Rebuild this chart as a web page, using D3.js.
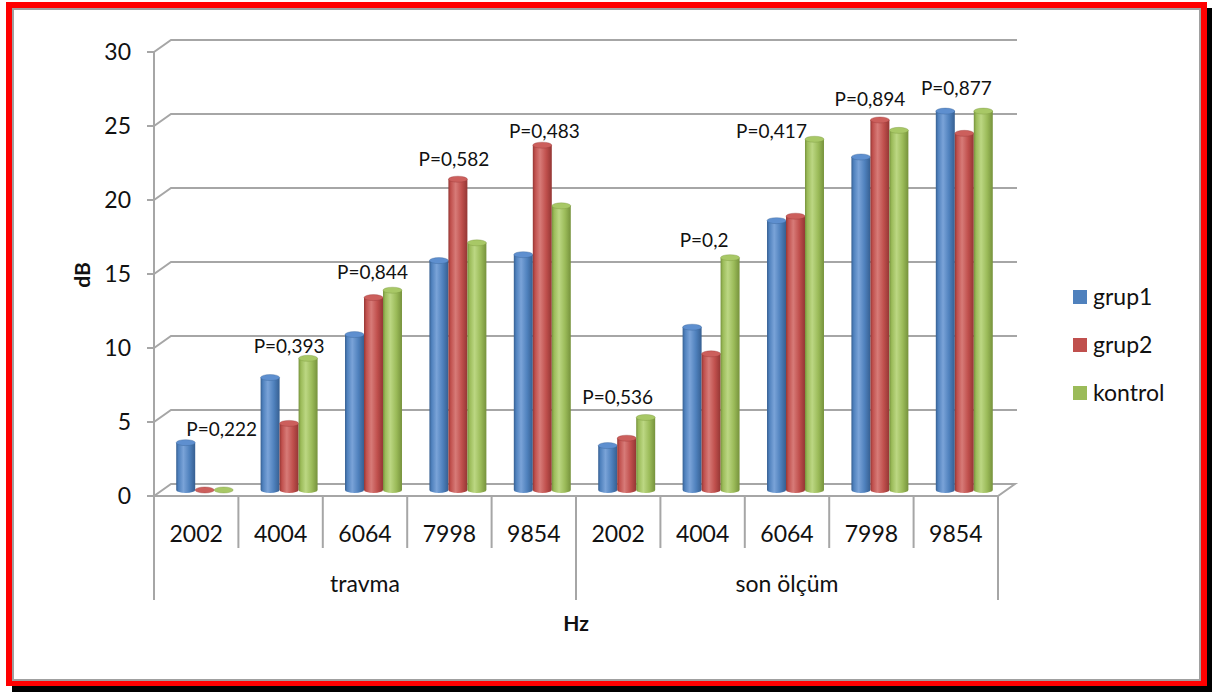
<!DOCTYPE html>
<html>
<head>
<meta charset="utf-8">
<script src="https://cdn.jsdelivr.net/npm/d3@7"></script>
<style>
  html, body { margin: 0; padding: 0; background: #fff; }
  svg { display: block; }
  text { font-family: Lato, "Open Sans", sans-serif; fill: #111; }
</style>
</head>
<body>
<svg id="chart" width="1226" height="693"></svg>
<script>
// ---- data ----
const groups = ["travma", "son ölçüm"];
const frequencies = ["2002", "4004", "6064", "7998", "9854"];
const seriesNames = ["grup1", "grup2", "kontrol"];
const grup1 = [3.2, 7.6, 10.5, 15.5, 15.9, 3.0, 11.0, 18.2, 22.5, 25.6];
const grup2 = [0, 4.5, 13.0, 21.0, 23.3, 3.5, 9.2, 18.5, 25.0, 24.1];
const kontrol = [0, 8.9, 13.5, 16.7, 19.2, 4.9, 15.7, 23.7, 24.3, 25.6];
const pValues = ["P=0,222", "P=0,393", "P=0,844", "P=0,582", "P=0,483",
                 "P=0,536", "P=0,2", "P=0,417", "P=0,894", "P=0,877"];
const yTicks = [0, 5, 10, 15, 20, 25, 30];

// ---- layout ----
const W = 1226, H = 693;
const plot = { left: 154, right: 998, top: 52, bottom: 496 };
const depth = { dx: 17, dy: -12 };        // back wall offset of the 3D box
const pLabelShift = [17, 0, -1, -4, 2, -9, -7, -24, -10, -8]; // horizontal nudges of the P annotations
const pLabelGap = [13, 12, 18, 20, 14, 20, 17, 8, 21, 23];   // gap above the tallest column

const palette = {
  grup1:   { base: "#4f81bd", dark: "#365f91", light: "#7aa3d8", top: "#5e8fcf" },
  grup2:   { base: "#c0504d", dark: "#943634", light: "#d77b78", top: "#cc5f5c" },
  kontrol: { base: "#9bbb59", dark: "#76923c", light: "#bcd783", top: "#a8c866" }
};
const gridColor = "#a6a6a6";

const values = { grup1, grup2, kontrol };
const categories = d3.range(groups.length * frequencies.length);

const svg = d3.select("#chart");
const defs = svg.append("defs");

// ---- frame ----
svg.append("rect").attr("x", 12).attr("y", 8).attr("width", 1200).attr("height", 684).attr("fill", "#000");
svg.append("rect").attr("x", 6).attr("y", 2).attr("width", 1201).attr("height", 684).attr("fill", "#ff0000");
svg.append("rect").attr("x", 13).attr("y", 9).attr("width", 1187).attr("height", 671)
  .attr("fill", "#fff").attr("stroke", "#a0a0a0").attr("stroke-width", 2);

// ---- scales ----
const y = d3.scaleLinear().domain([0, 30]).range([plot.bottom, plot.top]);
const xCat = d3.scaleBand().domain(categories).range([plot.left, plot.right]).padding(0);
const xBar = d3.scaleBand().domain(categories).range([plot.left, plot.right])
  .paddingInner(0.325).paddingOuter(0.1625);
const xSeries = d3.scaleBand().domain(seriesNames).range([0, xBar.bandwidth()]);

// ---- walls & gridlines ----
const grid = svg.append("g").attr("fill", "none").attr("stroke", gridColor).attr("stroke-width", 2);
const backRight = plot.right + depth.dx;
yTicks.forEach(t => {
  const yy = y(t);
  if (t === 0) {
    grid.append("path").attr("d",
      `M${plot.left},${yy} L${plot.left + depth.dx},${yy + depth.dy} L${backRight},${yy + depth.dy} L${plot.right},${yy} Z`);
  } else {
    grid.append("path").attr("d",
      `M${plot.left},${yy} L${plot.left + depth.dx},${yy + depth.dy} L${backRight + 2},${yy + depth.dy}`);
  }
  grid.append("line").attr("x1", plot.left - 7).attr("x2", plot.left).attr("y1", yy).attr("y2", yy);
});
// value axis line
grid.append("line").attr("x1", plot.left).attr("x2", plot.left).attr("y1", y(30)).attr("y2", plot.bottom);

// y tick labels
svg.append("g").selectAll("text").data(yTicks).join("text")
  .attr("x", 131).attr("y", d => y(d)).attr("dy", "0.36em")
  .attr("text-anchor", "end").attr("font-size", 23).text(d => d);

// ---- category axis (two levels) ----
const catAxis = svg.append("g").attr("stroke", gridColor).attr("stroke-width", 2);
catAxis.append("line").attr("x1", plot.left).attr("x2", plot.right).attr("y1", plot.bottom).attr("y2", plot.bottom);
d3.range(categories.length + 1).forEach(i => {
  const xx = i < categories.length ? xCat(i) : plot.right;
  const isGroupEdge = i % frequencies.length === 0;
  catAxis.append("line").attr("x1", xx).attr("x2", xx)
    .attr("y1", plot.bottom).attr("y2", isGroupEdge ? 600 : 548);
});
svg.append("g").selectAll("text").data(categories).join("text")
  .attr("x", d => xCat(d) + xCat.bandwidth() / 2).attr("y", 534).attr("dy", "0.36em")
  .attr("text-anchor", "middle").attr("font-size", 23)
  .text(d => frequencies[d % frequencies.length]);
svg.append("g").selectAll("text").data(groups).join("text")
  .attr("x", (d, i) => xCat(i * frequencies.length) + xCat.step() * frequencies.length / 2)
  .attr("y", 584).attr("dy", "0.36em")
  .attr("text-anchor", "middle").attr("font-size", 23).text(d => d);

// axis titles
svg.append("text").attr("x", (plot.left + plot.right) / 2).attr("y", 623).attr("dy", "0.36em")
  .attr("text-anchor", "middle").attr("font-size", 21).attr("font-weight", "bold").text("Hz");
svg.append("text").attr("transform", "translate(82,275) rotate(-90)").attr("dy", "0.36em")
  .attr("text-anchor", "middle").attr("font-size", 21).attr("font-weight", "bold").text("dB");

// ---- cylinder gradients ----
seriesNames.forEach(s => {
  const c = palette[s];
  const g = defs.append("linearGradient").attr("id", "grad-" + s)
    .attr("x1", "0%").attr("x2", "100%").attr("y1", "0%").attr("y2", "0%");
  [[0, c.dark], [0.12, c.base], [0.38, c.light], [0.7, c.base], [1, c.dark]].forEach(([o, col]) =>
    g.append("stop").attr("offset", o).attr("stop-color", col));
});

// ---- cylinders ----
const bx = depth.dx / 2, by = depth.dy / 2;   // columns stand in the middle of the floor depth
const ry = 3;
const bars = svg.append("g");
categories.forEach(i => {
  seriesNames.forEach(s => {
    const v = values[s][i];
    const w = xSeries.bandwidth();
    const x0 = xBar(i) + xSeries(s) + bx;
    const yb = y(0) + by, yt = y(v) + by;
    const c = palette[s];
    const g = bars.append("g");
    if (yb - yt > 0.5) {
      g.append("path").attr("fill", `url(#grad-${s})`)
        .attr("d", `M${x0},${yt} L${x0},${yb} A${w / 2},${ry} 0 0 0 ${x0 + w},${yb} L${x0 + w},${yt} Z`);
    }
    g.append("ellipse").attr("cx", x0 + w / 2).attr("cy", yt).attr("rx", w / 2).attr("ry", ry)
      .attr("fill", c.top).attr("stroke", c.dark).attr("stroke-width", 0.6).attr("stroke-opacity", 0.6);
  });
});

// ---- P annotations ----
svg.append("g").selectAll("text").data(categories).join("text")
  .attr("x", d => xBar(d) + xBar.bandwidth() / 2 + bx + pLabelShift[d])
  .attr("y", d => y(Math.max(grup1[d], grup2[d], kontrol[d])) + by - pLabelGap[d])
  .attr("dy", "0.36em").attr("text-anchor", "middle").attr("font-size", 19)
  .text(d => pValues[d]);

// ---- legend ----
const legend = svg.append("g").attr("transform", "translate(1073,297)");
seriesNames.forEach((s, i) => {
  legend.append("rect").attr("x", 0).attr("y", i * 48 - 7).attr("width", 14).attr("height", 14)
    .attr("fill", palette[s].base);
  legend.append("text").attr("x", 20).attr("y", i * 48).attr("dy", "0.36em")
    .attr("font-size", 23).text(s);
});
</script>
</body>
</html>
